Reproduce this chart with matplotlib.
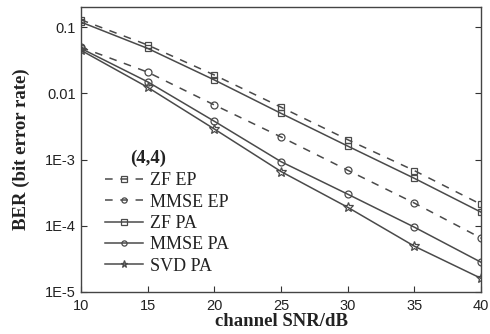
import matplotlib

matplotlib.use('Agg')
import matplotlib.pyplot as plt

snr = [10, 15, 20, 25, 30, 35, 40]
zf_ep = [0.13, 0.054, 0.019, 0.0062, 0.0020, 0.00068, 0.00021]
mmse_ep = [0.050, 0.021, 0.0067, 0.0022, 0.00069, 0.00022, 0.000065]
zf_pa = [0.12, 0.048, 0.016, 0.0050, 0.0016, 0.00052, 0.00016]
mmse_pa = [0.048, 0.015, 0.0038, 0.00093, 0.00030, 0.000095, 0.000028]
svd_pa = [0.045, 0.0124, 0.0029, 0.00066, 0.00019, 0.000049, 0.000016]

yticks = [1e-5, 1e-4, 1e-3, 1e-2, 1e-1]
ytick_labels = ['1E-5', '1E-4', '1E-3', '0.01', '0.1']

SERIF = 'Liberation Serif'
SANS = 'Liberation Sans'
C = '#4a4a4a'
TXT = '#222222'

fig = plt.figure(figsize=(4.9, 3.34), dpi=100)
ax = fig.add_axes([0.165, 0.126, 0.817, 0.852])

dash = (0, (5, 5))
common = dict(color=C, lw=1.1, markerfacecolor='none',
              markeredgecolor=C, markeredgewidth=0.9)
ax.plot(snr, zf_ep, linestyle=dash, marker='s', markersize=5, label='ZF EP', **common)
ax.plot(snr, mmse_ep, linestyle=dash, marker='o', markersize=5, label='MMSE EP', **common)
ax.plot(snr, zf_pa, linestyle='-', marker='s', markersize=5, label='ZF PA', **common)
ax.plot(snr, mmse_pa, linestyle='-', marker='o', markersize=5, label='MMSE PA', **common)
ax.plot(snr, svd_pa, linestyle='-', marker='*', markersize=7, label='SVD PA', **common)

ax.set_yscale('log')
ax.set_xlim(10, 40)
ax.set_ylim(1e-5, 0.2)
ax.set_xticks(range(10, 41, 5))
ax.set_yticks(yticks)
ax.set_yticklabels(ytick_labels)
ax.minorticks_off()
ax.tick_params(direction='in', length=4, width=0.8, right=True, colors='#333333',
               labelsize=10.5, labelcolor=TXT)
ax.tick_params(axis='x', pad=5)
for lab in ax.get_xticklabels() + ax.get_yticklabels():
    lab.set_family(SANS)
for s in ax.spines.values():
    s.set_color('#444444')
    s.set_linewidth(1.0)

ax.set_xlabel('channel SNR/dB', family=SERIF, fontweight='bold', fontsize=13.5,
              color=TXT, labelpad=0)
ax.set_ylabel('BER (bit error rate)', family=SERIF, fontweight='bold', fontsize=13.5,
              color=TXT, labelpad=11)

ax.text(0.1675, 0.471, '(4,4)', transform=ax.transAxes, family=SERIF,
        fontsize=13.5, color=TXT, fontweight='bold', ha='center', va='center')
ax.legend(loc='upper left', bbox_to_anchor=(0.06, 0.42), frameon=False,
          prop={'family': SERIF, 'size': 13}, handlelength=2.1, markerscale=0.75,
          handletextpad=0.4, labelspacing=0.24, borderaxespad=0, borderpad=0,
          labelcolor=TXT)

fig.savefig('out.png', dpi=100)
